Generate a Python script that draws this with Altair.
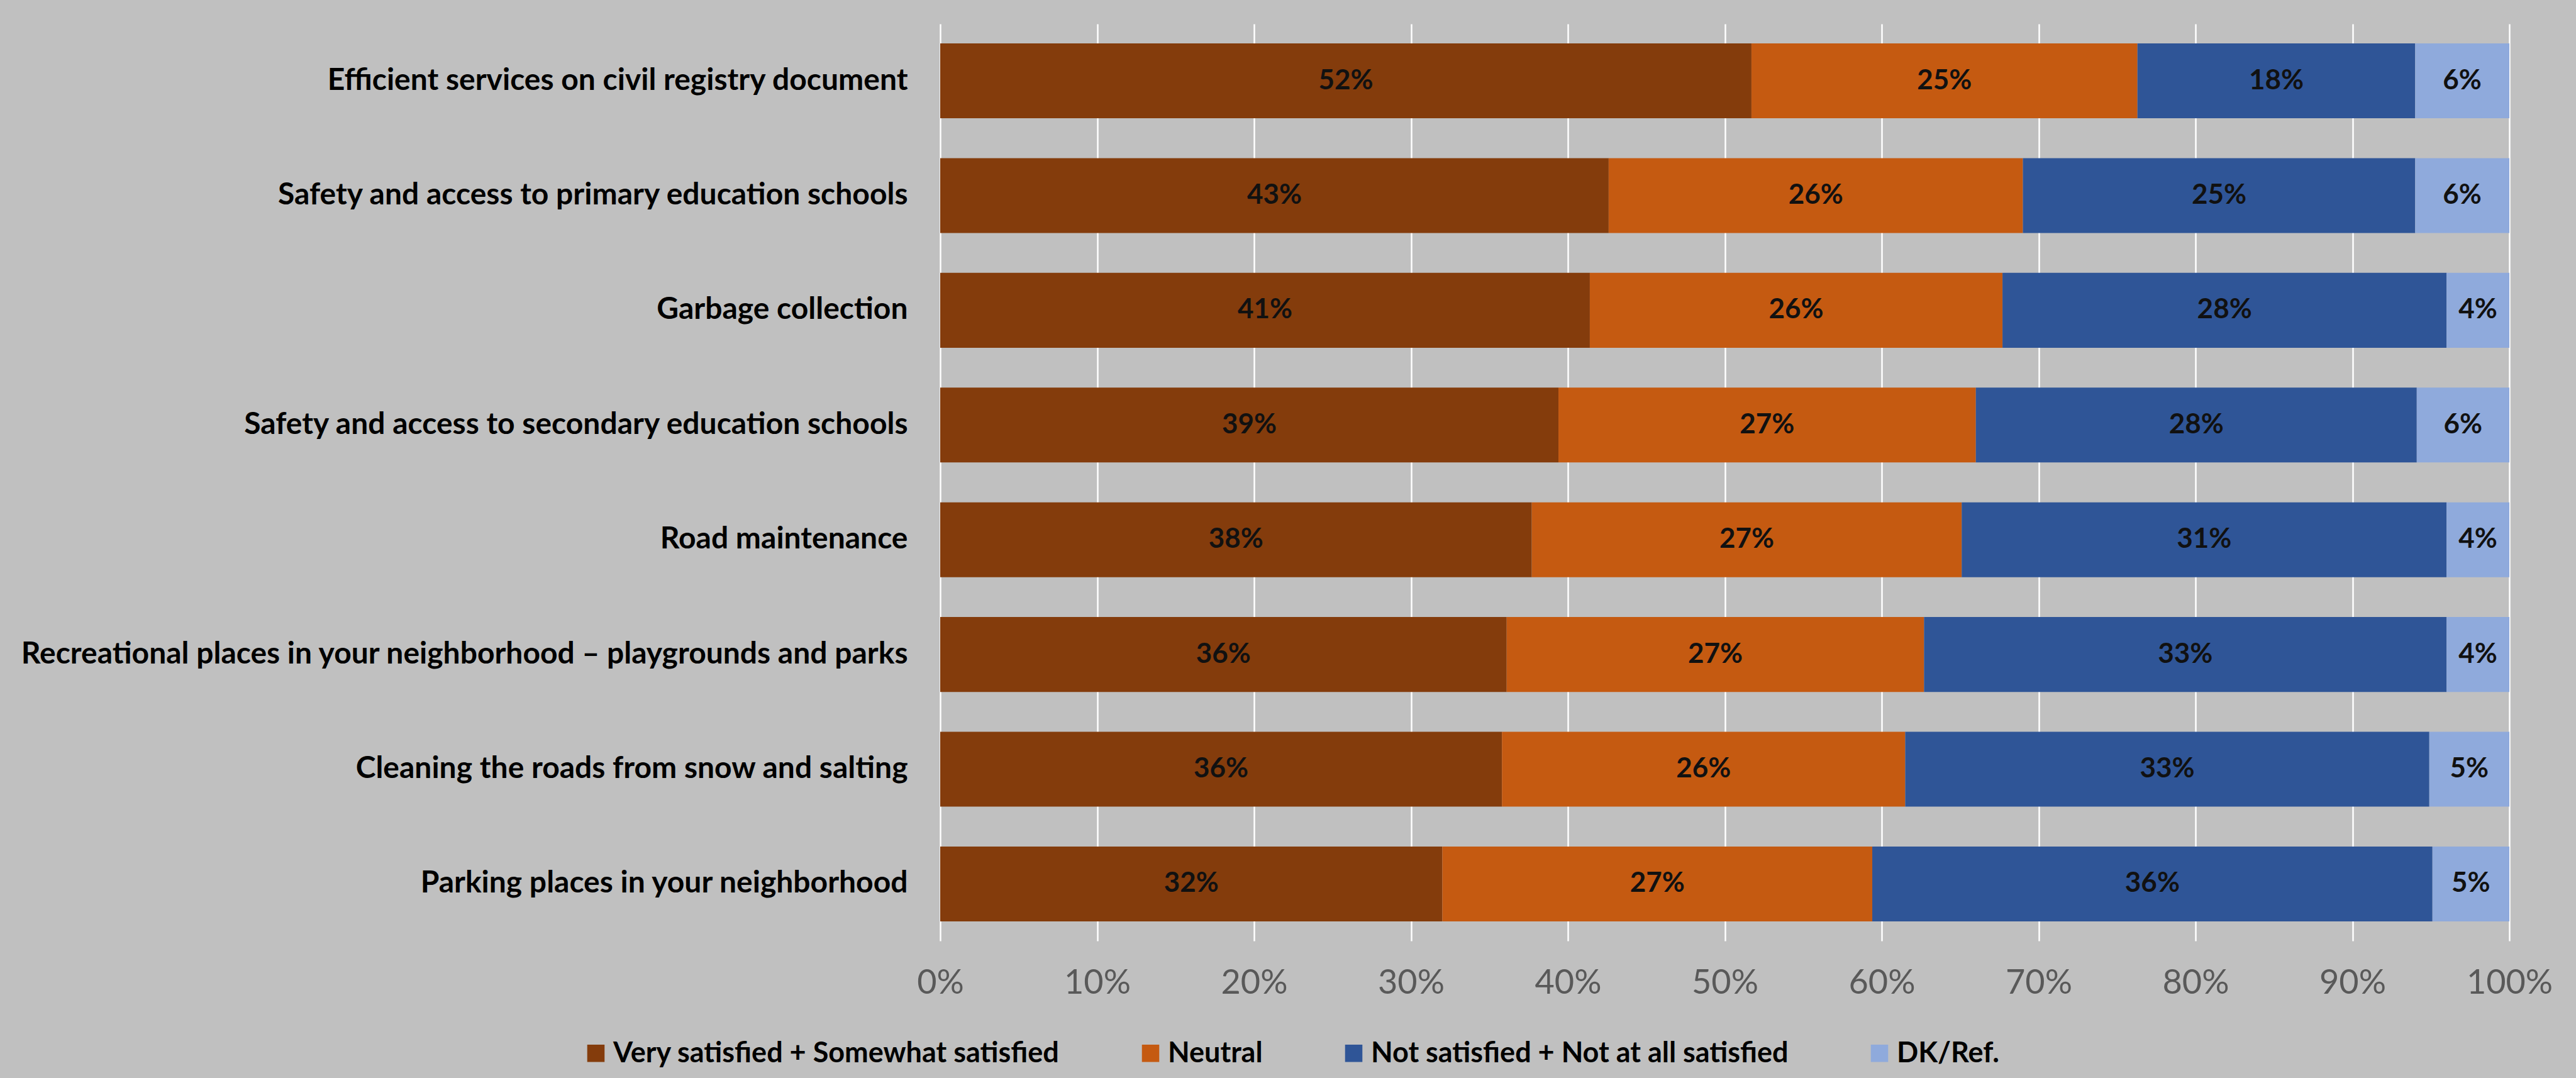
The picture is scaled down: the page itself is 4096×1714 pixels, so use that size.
import altair as alt
import pandas as pd

categories = [
    "Efficient services on civil registry document",
    "Safety and access to primary education schools",
    "Garbage collection",
    "Safety and access to secondary education schools",
    "Road maintenance",
    "Recreational places in your neighborhood – playgrounds and parks",
    "Cleaning the roads from snow and salting",
    "Parking places in your neighborhood",
]
series = [
    "Very satisfied + Somewhat satisfied",
    "Neutral",
    "Not satisfied + Not at all satisfied",
    "DK/Ref.",
]
satisfied = [51.7, 42.6, 41.4, 39.4, 37.7, 36.1, 35.8, 32.0]
neutral = [24.6, 26.4, 26.3, 26.6, 27.4, 26.6, 25.7, 27.4]
not_satisfied = [17.7, 25.0, 28.3, 28.1, 30.9, 33.3, 33.4, 35.7]
dk_ref = [6.0, 6.0, 4.0, 5.9, 4.0, 4.0, 5.1, 4.9]
colors = ["#843C0C", "#C55A11", "#2F5597", "#8FAADC"]
x_ticks = [0, 10, 20, 30, 40, 50, 60, 70, 80, 90, 100]

rows = []
for s_i, (s_name, vals) in enumerate(zip(series, [satisfied, neutral, not_satisfied, dk_ref])):
    for cat, v in zip(categories, vals):
        rows.append({"category": cat, "series": s_name, "value": v, "order": s_i})
df = pd.DataFrame(rows)

FONT = "Lato"

base = alt.Chart(df).transform_stack(
    stack="value",
    groupby=["category"],
    as_=["x0", "x1"],
    sort=[alt.SortField("order", order="ascending")],
).transform_calculate(
    mid="(datum.x0 + datum.x1) / 2",
    label="round(datum.value) + '%'",
)

y_enc = alt.Y(
    "category:N",
    sort=categories,
    scale=alt.Scale(paddingInner=0.347, paddingOuter=0.17),
    axis=alt.Axis(
        title=None,
        labelFont=FONT,
        labelFontSize=48,
        labelFontWeight="bold",
        labelColor="#000000",
        labelPadding=52,
        labelLimit=0,
        ticks=False,
        domain=False,
        grid=False,
    ),
)

bars = base.mark_bar().encode(
    y=y_enc,
    x=alt.X(
        "x0:Q",
        scale=alt.Scale(domain=[0, 100], nice=False),
        axis=alt.Axis(
            title=None,
            values=x_ticks,
            labelExpr="datum.value + '%'",
            labelFont=FONT,
            labelFontSize=54,
            labelColor="#595959",
            labelPadding=40,
            labelFlush=False,
            ticks=False,
            domain=False,
            grid=True,
            gridColor="#FFFFFF",
            gridWidth=2.5,
        ),
    ),
    x2="x1:Q",
    color=alt.Color(
        "series:N",
        sort=series,
        scale=alt.Scale(domain=series, range=colors),
        legend=alt.Legend(
            title=None,
            orient="none",
            legendX=-570,
            legendY=1614,
            direction="horizontal",
            symbolType="square",
            symbolSize=760,
            symbolStrokeWidth=0,
            labelFont=FONT,
            labelFontSize=45,
            labelFontWeight="bold",
            labelColor="#000000",
            labelOffset=5,
            columnPadding=122,
            labelLimit=0,
        ),
    ),
    order=alt.Order("order:Q"),
)

text = base.mark_text(
    font=FONT, fontSize=44, fontWeight="bold", color="#111111"
).encode(
    y=alt.Y("category:N", sort=categories),
    x=alt.X("mid:Q"),
    text="label:N",
)

chart = alt.layer(bars, text).properties(
    width=2495,
    height=1458,
    autosize=alt.AutoSizeParams(type="none"),
    padding={"left": 1495, "top": 38, "right": 106, "bottom": 218},
    background="#C0C0C0",
).configure_view(stroke=None)

chart.save("out.html", embed_options={"renderer": "svg", "actions": False})
